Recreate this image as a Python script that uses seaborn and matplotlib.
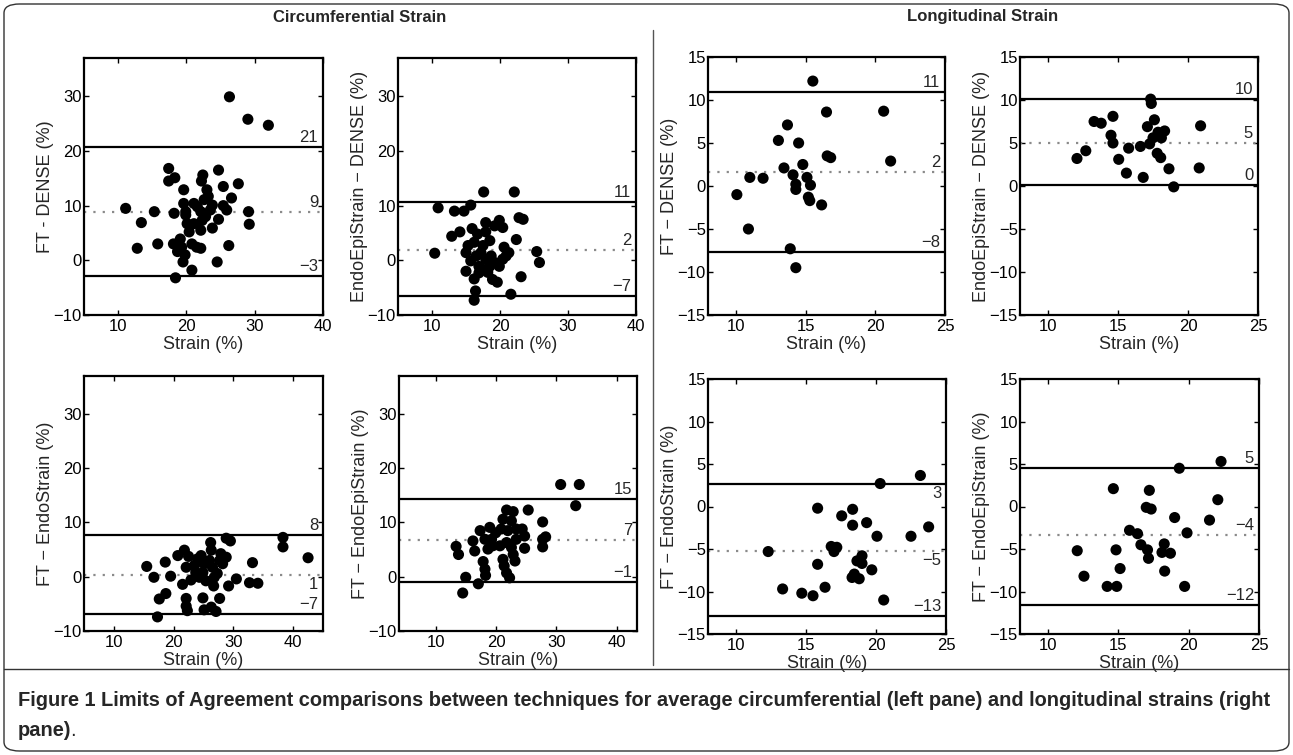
import matplotlib
matplotlib.use("Agg")
import matplotlib.pyplot as plt
import seaborn as sns
import pandas as pd
from matplotlib.patches import FancyBboxPatch
from matplotlib.lines import Line2D

# ---------------- data ----------------
# Circumferential: FT - DENSE
circ_ft_dense_x = [26.3, 29.0, 32.0, 17.4, 17.4, 18.3, 24.7, 22.4, 22.2, 25.4, 27.6, 26.6, 19.6, 23.0,
                   11.1, 15.3, 13.4, 18.2, 29.1, 29.2, 25.4, 25.9, 24.7, 23.8, 19.6, 19.9, 20.1, 20.4,
                   21.1, 22.1, 22.3, 21.6, 22.6, 23.2, 23.5, 22.1, 21.1, 22.8, 23.8, 26.2, 12.8, 15.8,
                   18.1, 19.1, 19.3, 18.7, 19.8, 19.5, 20.8, 21.5, 22.1, 24.5, 20.8, 18.4, 19.9]
circ_ft_dense_y = [29.9, 25.8, 24.7, 16.8, 14.5, 15.1, 16.5, 15.6, 14.5, 13.5, 14.0, 11.4, 12.9, 12.9,
                   9.5, 8.9, 6.9, 8.6, 8.9, 6.6, 10.0, 9.2, 7.5, 5.9, 10.4, 8.9, 6.7, 5.2,
                   6.7, 5.5, 7.3, 9.8, 11.1, 11.7, 9.2, 8.9, 10.4, 8.0, 10.1, 2.7, 2.2, 3.0,
                   3.0, 3.9, 2.4, 1.6, 1.0, -0.3, 3.0, 2.4, 2.2, -0.3, -1.8, -3.2, 8.3]
circ_ft_dense_loa = [20.7, 8.9, -2.9]
circ_ft_dense_lab = ["21", "9", "\u22123"]

# Circumferential: EndoEpiStrain - DENSE
circ_epi_dense_x = [17.6, 22.1, 10.9, 13.3, 14.7, 15.7, 10.4, 12.9, 14.1, 17.9, 19.9, 20.4, 19.2, 22.8,
                    23.4, 22.4, 15.9, 16.7, 17.9, 15.3, 16.2, 17.5, 18.5, 20.6, 21.3, 25.4, 25.8, 15.0,
                    15.7, 16.5, 17.2, 17.9, 18.7, 19.2, 19.9, 20.4, 20.9, 15.0, 16.2, 16.9, 18.2, 18.9,
                    19.6, 23.1, 16.4, 16.2, 21.6, 16.9, 17.7, 18.5]
circ_epi_dense_y = [12.5, 12.5, 9.6, 9.0, 9.0, 10.1, 1.3, 4.4, 5.2, 6.9, 7.3, 6.0, 6.3, 7.8,
                    7.5, 3.8, 5.8, 4.8, 5.2, 2.7, 3.3, 2.7, 3.6, 2.4, 1.4, 1.6, -0.4, 1.4,
                    -0.1, 0.8, 1.4, 0.2, 0.8, -0.4, -1.1, 0.2, 0.8, -2.0, -3.4, -2.3, -2.2, -3.5,
                    -4.0, -3.0, -5.6, -7.3, -6.2, -1.1, -1.7, -1.1]
circ_epi_dense_loa = [10.6, 1.9, -6.5]
circ_epi_dense_lab = ["11", "2", "\u22127"]

# Longitudinal: FT - DENSE
long_ft_dense_x = [15.52, 16.5, 20.6, 13.7, 13.05, 14.5, 16.55, 16.8, 21.1, 13.45, 14.8, 14.1, 11.0,
                   11.95, 15.1, 14.3, 15.35, 14.3, 15.2, 15.3, 16.15, 10.07, 10.9, 13.9, 14.3]
long_ft_dense_y = [12.2, 8.6, 8.7, 7.1, 5.3, 5.0, 3.5, 3.3, 2.9, 2.1, 2.5, 1.3, 1.0,
                   0.9, 1.0, 0.2, 0.1, -0.4, -1.3, -1.7, -2.2, -1.0, -5.0, -7.3, -9.5]
long_ft_dense_loa = [10.9, 1.6, -7.7]
long_ft_dense_lab = ["11", "2", "\u22128"]

# Longitudinal: EndoEpiStrain - DENSE
long_epi_dense_x = [17.33, 17.38, 14.64, 13.29, 13.8, 17.6, 17.1, 20.9, 14.5, 14.64, 17.86, 18.33, 18.1,
                    17.5, 17.26, 16.6, 15.76, 12.7, 12.07, 15.05, 17.8, 18.05, 18.64, 20.8, 15.6, 16.8, 18.98]
long_epi_dense_y = [10.1, 9.6, 8.1, 7.5, 7.3, 7.7, 6.9, 7.0, 5.9, 5.0, 6.25, 6.4, 5.6,
                    5.6, 4.9, 4.6, 4.4, 4.1, 3.2, 3.1, 3.8, 3.3, 2.0, 2.1, 1.5, 1.0, -0.1]
long_epi_dense_loa = [10.1, 5.0, 0.1]
long_epi_dense_lab = ["10", "5", "0"]

# Circumferential: FT - EndoStrain
circ_ft_endo_x = [28.8, 29.5, 38.3, 38.3, 42.5, 26.2, 15.5, 18.6, 16.7, 19.5, 20.7, 21.8, 22.5, 22.1,
                  23.5, 21.5, 22.9, 24.6, 25.1, 24.9, 25.4, 26.5, 26.8, 26.7, 27.9, 28.2, 27.7, 27.3,
                  28.8, 29.2, 30.5, 33.2, 32.7, 34.1, 27.7, 24.9, 17.6, 18.7, 22.1, 22.1, 22.3, 25.1,
                  26.3, 27.1, 17.3, 24.0, 26.0, 23.7, 24.3, 26.3]
circ_ft_endo_y = [7.1, 6.6, 7.25, 5.5, 3.5, 6.3, 1.9, 2.7, -0.1, 0.1, 3.9, 4.9, 3.75, 1.75,
                  2.1, -1.4, -0.6, 3.9, 2.4, 0.8, -0.75, 1.75, -0.1, -1.7, 4.25, 2.4, 3.0, 0.6,
                  3.6, -1.7, -0.4, 2.6, -1.1, -1.2, -4.0, -3.9, -4.1, -3.1, -4.0, -5.4, -6.25, -6.1,
                  -5.6, -6.4, -7.4, 3.3, 3.0, 0.8, -0.1, 4.9]
circ_ft_endo_loa = [7.7, 0.4, -6.8]
circ_ft_endo_lab = ["8", "1", "\u22127"]

# Circumferential: FT - EndoEpiStrain
circ_ft_epi_x = [30.7, 33.8, 33.2, 13.3, 13.7, 16.1, 16.4, 17.3, 18.9, 18.1, 19.2, 17.8, 18.1, 18.2,
                 14.9, 17.0, 14.4, 21.7, 22.8, 25.3, 21.1, 22.5, 20.8, 21.9, 23.3, 24.3, 24.7, 23.3,
                 21.7, 20.6, 22.5, 22.8, 21.1, 23.1, 21.3, 21.7, 22.2, 24.7, 27.7, 28.2, 27.7, 27.7,
                 19.9, 19.4, 18.6]
circ_ft_epi_y = [17.0, 17.0, 13.1, 5.6, 4.1, 6.6, 4.75, 8.5, 9.1, 6.9, 6.9, 2.8, 1.4, 0.25,
                 -0.1, -1.3, -3.0, 12.3, 12.0, 12.3, 10.6, 10.3, 8.8, 8.5, 8.8, 8.8, 7.5, 6.9,
                 6.3, 5.7, 5.4, 4.1, 3.2, 2.9, 2.0, 0.7, -0.2, 5.25, 10.1, 7.35, 6.9, 5.5,
                 8.1, 5.7, 5.1]
circ_ft_epi_loa = [14.4, 6.8, -0.9]
circ_ft_epi_lab = ["15", "7", "\u22121"]

# Longitudinal: FT - EndoStrain
long_ft_endo_x = [23.17, 20.3, 15.83, 18.33, 17.55, 18.33, 19.33, 20.07, 22.5, 23.76, 12.3, 16.8, 17.2,
                  17.0, 19.0, 18.64, 19.0, 15.83, 19.7, 18.45, 18.8, 18.29, 16.36, 13.33, 14.7, 15.5, 20.55]
long_ft_endo_y = [3.65, 2.7, -0.2, -0.33, -1.1, -2.2, -1.9, -3.5, -3.5, -2.4, -5.3, -4.7, -4.8,
                  -5.3, -5.8, -6.4, -6.7, -6.8, -7.45, -7.95, -8.5, -8.35, -9.5, -9.7, -10.2, -10.5, -11.0]
long_ft_endo_loa = [2.7, -5.2, -12.9]
long_ft_endo_lab = ["3", "\u22125", "\u221213"]

# Longitudinal: FT - EndoEpiStrain
long_ft_epi_x = [22.3, 19.33, 14.64, 17.2, 22.07, 16.98, 17.33, 19.0, 21.48, 15.79, 16.36, 19.88, 16.6,
                 17.07, 17.14, 18.26, 18.1, 18.7, 12.07, 14.83, 15.12, 12.55, 18.29, 14.2, 14.88, 19.71]
long_ft_epi_y = [5.3, 4.5, 2.1, 1.9, 0.8, -0.1, -0.3, -1.3, -1.6, -2.8, -3.2, -3.1, -4.5,
                 -5.1, -6.1, -4.4, -5.4, -5.5, -5.2, -5.1, -7.3, -8.2, -7.6, -9.4, -9.4, -9.4]
long_ft_epi_loa = [4.5, -3.4, -11.6]
long_ft_epi_lab = ["5", "\u22124", "\u221212"]

circ_yticks = [-10, 0, 10, 20, 30]
long_yticks = [-15, -10, -5, 0, 5, 10, 15]
circ_xticks = [10, 20, 30, 40]
long_xticks = [10, 15, 20, 25]

xlabel_text = "Strain (%)"
title_left = "Circumferential Strain"
title_right = "Longitudinal Strain"
caption_bold = "Figure 1 Limits of Agreement comparisons between techniques for average circumferential (left pane) and longitudinal strains (right"
caption_line2 = "pane)"

# ---------------- styling ----------------
sns.set_style("ticks")
plt.rcParams['font.family'] = ['Liberation Sans', 'DejaVu Sans']
plt.rcParams['axes.linewidth'] = 1.5

W, H = 1293, 755
fig = plt.figure(figsize=(W / 100, H / 100), dpi=100)

TICK_FS = 12
LAB_FS = 13


def px_axes(left, top, right, bottom):
    return fig.add_axes([left / W, 1 - bottom / H, (right - left) / W, (bottom - top) / H])


panels = [
    # x, y, loa, labels, label positions, ylabel, xlim, ylim, xticks, yticks, bbox
    (circ_ft_dense_x, circ_ft_dense_y, circ_ft_dense_loa, circ_ft_dense_lab, ['a', 'a', 'a'],
     "FT - DENSE (%)", (5, 40), (-10, 37), circ_xticks, circ_yticks, (84, 58, 323, 315)),
    (circ_epi_dense_x, circ_epi_dense_y, circ_epi_dense_loa, circ_epi_dense_lab, ['a', 'a', 'a'],
     "EndoEpiStrain \u2212 DENSE (%)", (5, 40), (-10, 37), circ_xticks, circ_yticks, (398, 58, 636, 315)),
    (long_ft_dense_x, long_ft_dense_y, long_ft_dense_loa, long_ft_dense_lab, ['a', 'a', 'a'],
     "FT \u2212 DENSE (%)", (8, 25), (-15, 15), long_xticks, long_yticks, (708, 57, 945, 315)),
    (long_epi_dense_x, long_epi_dense_y, long_epi_dense_loa, long_epi_dense_lab, ['a', 'a', 'a'],
     "EndoEpiStrain \u2212 DENSE (%)", (8, 25), (-15, 15), long_xticks, long_yticks, (1020, 57, 1258, 315)),
    (circ_ft_endo_x, circ_ft_endo_y, circ_ft_endo_loa, circ_ft_endo_lab, ['a', 'b', 'a'],
     "FT \u2212 EndoStrain (%)", (5, 45), (-10, 37), circ_xticks, circ_yticks, (84, 376, 323, 631)),
    (circ_ft_epi_x, circ_ft_epi_y, circ_ft_epi_loa, circ_ft_epi_lab, ['a', 'a', 'a'],
     "FT \u2212 EndoEpiStrain (%)", (3.8, 43.4), (-10, 37), circ_xticks, circ_yticks, (399, 376, 637, 631)),
    (long_ft_endo_x, long_ft_endo_y, long_ft_endo_loa, long_ft_endo_lab, ['b', 'b', 'a'],
     "FT \u2212 EndoStrain (%)", (8, 25), (-15, 15), long_xticks, long_yticks, (708, 379, 946, 634)),
    (long_ft_epi_x, long_ft_epi_y, long_ft_epi_loa, long_ft_epi_lab, ['a', 'a', 'a'],
     "FT \u2212 EndoEpiStrain (%)", (8, 25), (-15, 15), long_xticks, long_yticks, (1020, 379, 1259, 634)),
]

for (xs, ys, loa, labs, pos, ylab, xlim, ylim, xt, yt, box) in panels:
    ax = px_axes(*box)
    df = pd.DataFrame({"strain": xs, "diff": ys})
    ax.axhline(loa[0], color='black', lw=1.6, zorder=1)
    ax.axhline(loa[1], color='#8a8a8a', lw=1.6, ls=(0, (1, 3.2)), zorder=1)
    ax.axhline(loa[2], color='black', lw=1.6, zorder=1)
    sns.scatterplot(data=df, x="strain", y="diff", ax=ax, color='black', s=64,
                    edgecolor='none', linewidth=0, zorder=3, legend=False)
    ax.set_xlim(*xlim)
    ax.set_ylim(*ylim)
    ax.set_xticks(xt)
    ax.set_yticks(yt)
    ax.tick_params(direction='in', length=3.5, width=1.0, top=True, right=True,
                   labelsize=TICK_FS, colors='black')
    ax.tick_params(axis='y', pad=1.5)
    ax.tick_params(axis='x', pad=3)
    ax.set_xlabel(xlabel_text, fontsize=LAB_FS, labelpad=1)
    ax.set_ylabel(ylab, fontsize=LAB_FS, labelpad=0)
    for sp in ax.spines.values():
        sp.set_visible(True)
        sp.set_linewidth(1.6)
        sp.set_color('black')
    for v, t, p in zip(loa, labs, pos):
        if p == 'a':
            ax.annotate(t, xy=(1.0, v), xycoords=('axes fraction', 'data'),
                        xytext=(-3.5, 1.5), textcoords='offset points',
                        ha='right', va='bottom', fontsize=TICK_FS)
        else:
            ax.annotate(t, xy=(1.0, v), xycoords=('axes fraction', 'data'),
                        xytext=(-3.5, -2), textcoords='offset points',
                        ha='right', va='top', fontsize=TICK_FS)

# titles
fig.text(360 / W, 1 - 17 / H, title_left, ha='center', va='center', fontsize=12, fontweight='bold')
fig.text(983 / W, 1 - 17 / H, title_right, ha='center', va='center', fontsize=12, fontweight='bold')

# separators and frame
fig.add_artist(Line2D([653 / W, 653 / W], [1 - 30 / H, 1 - 665 / H], color='#555555', lw=1.0))
fig.add_artist(Line2D([4 / W, 1289 / W], [1 - 669 / H, 1 - 669 / H], color='#333333', lw=1.0))
fig.add_artist(FancyBboxPatch((4 / W, 4 / H), 1285 / W, 747 / H,
                              boxstyle="round,pad=0,rounding_size=0.012",
                              transform=fig.transFigure, fill=False, ec='#333333', lw=1.0))

# caption
cap_font = ['Liberation Sans', 'DejaVu Sans']
CAP_FS = 14.4
fig.text(18 / W, 1 - 701 / H, caption_bold, ha='left', va='center', fontsize=CAP_FS,
         fontweight='bold', family=cap_font)
t2 = fig.text(18 / W, 1 - 731 / H, caption_line2, ha='left', va='center', fontsize=CAP_FS,
              fontweight='bold', family=cap_font)
fig.canvas.draw()
bb = t2.get_window_extent()
fig.text(bb.x1 / W - 1.0 / W, 1 - 731 / H, ".", ha='left', va='center', fontsize=CAP_FS,
         family=cap_font)

fig.savefig("out.png", dpi=100)
